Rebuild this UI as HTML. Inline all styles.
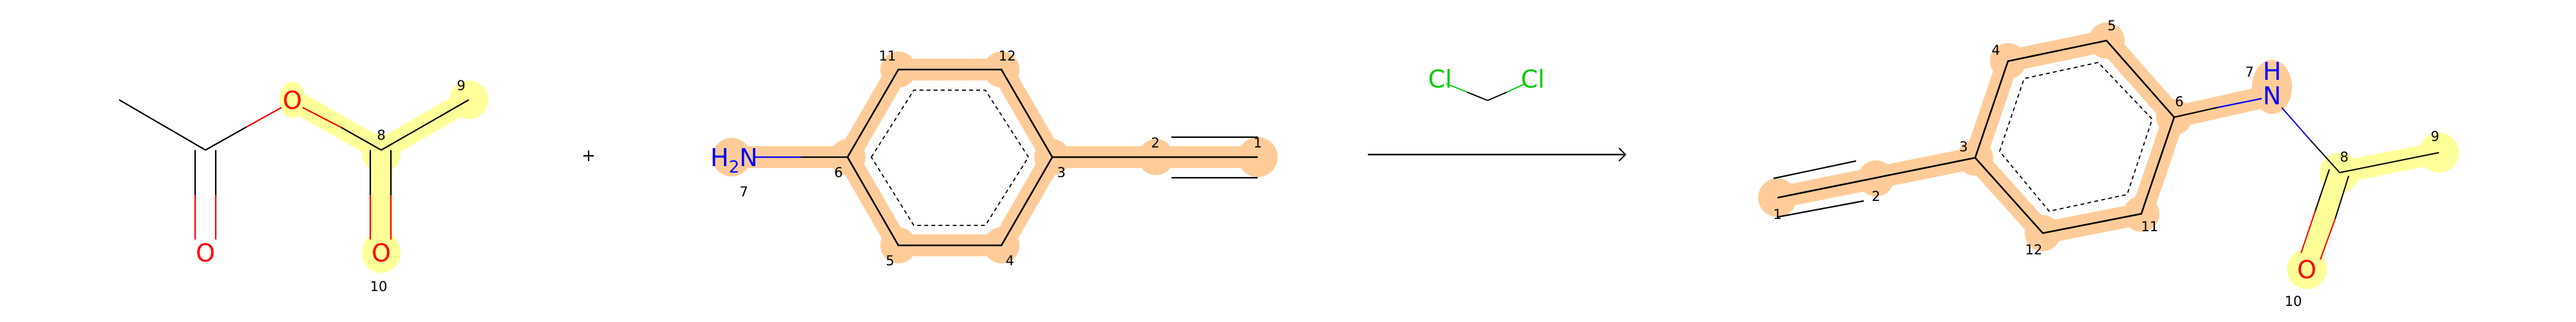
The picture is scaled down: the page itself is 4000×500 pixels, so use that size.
<!DOCTYPE html>
<html><head><meta charset="utf-8"><style>
html,body{margin:0;padding:0;background:#fff;}
svg{display:block;}
text{font-family:"DejaVu Sans","Liberation Sans",sans-serif;}
.n{font-size:21px;fill:#000;}
.a{font-size:38px;}
</style></head><body>
<svg width="4000" height="500" viewBox="0 0 4000 500">
<!-- Reactant 1: acetic anhydride -->
<g>
 <g stroke="#ffff99" stroke-width="34" stroke-linecap="round" fill="none">
  <line x1="454" y1="155" x2="592" y2="233"/><line x1="592" y1="233" x2="728" y2="155"/><line x1="592" y1="233" x2="592" y2="392"/>
 </g>
 <g fill="#ffff99"><ellipse cx="728" cy="155" rx="30" ry="30"/><ellipse cx="592" cy="392" rx="30" ry="32"/><ellipse cx="592" cy="238" rx="30" ry="30"/><ellipse cx="454" cy="155" rx="20" ry="28"/></g>
 <g stroke-width="2.2" fill="none">
  <line x1="185" y1="155" x2="319" y2="233" stroke="#000"/>
  <line x1="319" y1="233" x2="383" y2="197" stroke="#000"/><line x1="383" y1="197" x2="437" y2="167" stroke="#f00"/>
  <line x1="303" y1="233" x2="303" y2="303" stroke="#000"/><line x1="303" y1="303" x2="303" y2="372" stroke="#f00"/>
  <line x1="335" y1="233" x2="335" y2="303" stroke="#000"/><line x1="335" y1="303" x2="335" y2="372" stroke="#f00"/>
  <line x1="470" y1="167" x2="530" y2="198" stroke="#f00"/><line x1="530" y1="198" x2="592" y2="233" stroke="#000"/>
  <line x1="592" y1="233" x2="728" y2="155" stroke="#000"/>
  <line x1="575" y1="233" x2="575" y2="303" stroke="#000"/><line x1="575" y1="303" x2="575" y2="372" stroke="#f00"/>
  <line x1="607" y1="233" x2="607" y2="303" stroke="#000"/><line x1="607" y1="303" x2="607" y2="372" stroke="#f00"/>
 </g>
 <text class="a" x="454" y="169" fill="#f00" text-anchor="middle">O</text>
 <text class="a" x="319" y="406" fill="#f00" text-anchor="middle">O</text>
 <text class="a" x="592" y="406" fill="#f00" text-anchor="middle">O</text>
 <text class="n" x="592" y="217" text-anchor="middle">8</text>
 <text class="n" x="716" y="140" text-anchor="middle">9</text>
 <text class="n" x="588" y="452" text-anchor="middle">10</text>
</g>
<text x="914" y="250" font-size="26" text-anchor="middle">+</text>
<!-- Reactant 2: 4-ethynylaniline -->
<g>
 <g stroke="#ffcc99" stroke-width="34" stroke-linecap="round" fill="none">
  <polyline points="1136,244 1316,244 1395,108 1555,108 1634,244 1555,381 1395,381 1316,244"/>
  <line x1="1634" y1="244" x2="1953" y2="244"/>
 </g>
 <g fill="#ffcc99"><circle cx="1136" cy="244" r="30"/><circle cx="1316" cy="244" r="28"/><circle cx="1395" cy="108" r="28"/><circle cx="1555" cy="108" r="28"/><circle cx="1634" cy="244" r="28"/><circle cx="1555" cy="381" r="28"/><circle cx="1395" cy="381" r="28"/><circle cx="1795" cy="244" r="28"/><circle cx="1953" cy="244" r="31"/></g>
 <g stroke="#000" stroke-width="2.6" fill="none">
  <polygon points="1316,244 1395,108 1555,108 1634,244 1555,381 1395,381"/>
  <line x1="1634" y1="244" x2="1953" y2="244"/>
  <line x1="1819" y1="213" x2="1953" y2="213" stroke-width="2.2"/><line x1="1819" y1="276" x2="1953" y2="276" stroke-width="2.2"/>
  <line x1="1244" y1="244" x2="1316" y2="244" stroke-width="2.2"/>
  <polygon points="1353,244 1419,140 1530,140 1597,244 1530,350 1419,350" stroke-width="1.8" stroke-dasharray="6,5"/>
 </g>
 <line x1="1170" y1="244" x2="1244" y2="244" stroke="#00f" stroke-width="2.2"/>
 <text class="a" x="1103" y="258" fill="#00f">H<tspan font-size="26" dy="10">2</tspan><tspan dy="-10">N</tspan></text>
 <text class="n" x="1378" y="94" text-anchor="middle">11</text><text class="n" x="1564" y="94" text-anchor="middle">12</text>
 <text class="n" x="1302" y="275" text-anchor="middle">6</text><text class="n" x="1648" y="275" text-anchor="middle">3</text>
 <text class="n" x="1794" y="229" text-anchor="middle">2</text><text class="n" x="1953" y="229" text-anchor="middle">1</text>
 <text class="n" x="1382" y="412" text-anchor="middle">5</text><text class="n" x="1568" y="412" text-anchor="middle">4</text>
 <text class="n" x="1155" y="305" text-anchor="middle">7</text>
</g>
<!-- Reagent: dichloromethane -->
<g>
 <line x1="2246" y1="130" x2="2278" y2="143" stroke="#0c0" stroke-width="2"/><line x1="2278" y1="143" x2="2310" y2="156" stroke="#000" stroke-width="2"/>
 <line x1="2310" y1="156" x2="2340" y2="143" stroke="#000" stroke-width="2"/><line x1="2340" y1="143" x2="2368" y2="130" stroke="#0c0" stroke-width="2"/>
 <text class="a" x="2236" y="136" fill="#0c0" text-anchor="middle">Cl</text>
 <text class="a" x="2380" y="136" fill="#0c0" text-anchor="middle">Cl</text>
</g>
<g stroke="#000" stroke-width="2.6" fill="none">
 <line x1="2124" y1="240" x2="2524" y2="240"/><polyline points="2514,230 2524,240 2514,250" stroke-width="2"/>
</g>
<!-- Product -->
<g>
 <g stroke="#ffcc99" stroke-width="34" stroke-linecap="round" fill="none">
  <polyline points="2760,307 3067,245 3118,95 3271,63 3376,182 3325,332 3172,362 3067,245"/>
  <line x1="3376" y1="182" x2="3528" y2="148"/>
 </g>
 <g fill="#ffcc99"><circle cx="2760" cy="307" r="30"/><circle cx="2913" cy="277" r="28"/><circle cx="3067" cy="245" r="28"/><circle cx="3118" cy="95" r="28"/><circle cx="3271" cy="63" r="28"/><circle cx="3376" cy="182" r="28"/><circle cx="3325" cy="332" r="28"/><circle cx="3172" cy="362" r="28"/><ellipse cx="3528" cy="135" rx="31" ry="42"/></g>
 <g stroke="#ffff99" stroke-width="34" stroke-linecap="round" fill="none">
  <line x1="3633" y1="268" x2="3787" y2="237"/><line x1="3633" y1="268" x2="3582" y2="418"/>
 </g>
 <g fill="#ffff99"><circle cx="3787" cy="237" r="31"/><circle cx="3582" cy="418" r="31"/><circle cx="3633" cy="268" r="31"/></g>
 <g stroke="#000" stroke-width="2.6" fill="none">
  <polygon points="3067,245 3118,95 3271,63 3376,182 3325,332 3172,362"/>
  <line x1="2760" y1="307" x2="3067" y2="245"/>
  <line x1="2754" y1="277" x2="2882" y2="250" stroke-width="2.2"/><line x1="2760" y1="337" x2="2894" y2="312" stroke-width="2.2"/>
  <polygon points="3105,235 3143,122 3258,97 3342,185 3303,302 3182,328" stroke-width="1.8" stroke-dasharray="6,5"/>
  <line x1="3376" y1="182" x2="3443" y2="167" stroke-width="2.2"/>
  <line x1="3587" y1="217" x2="3633" y2="268" stroke-width="2"/>
  <line x1="3633" y1="268" x2="3787" y2="237" stroke-width="2"/>
  <line x1="3617" y1="263" x2="3595" y2="328" stroke-width="2"/><line x1="3647" y1="273" x2="3626" y2="340" stroke-width="2"/>
 </g>
 <line x1="3443" y1="167" x2="3512" y2="153" stroke="#00f" stroke-width="2.2"/>
 <line x1="3543" y1="167" x2="3587" y2="217" stroke="#00f" stroke-width="2"/>
 <line x1="3595" y1="328" x2="3573" y2="393" stroke="#f00" stroke-width="2"/><line x1="3626" y1="340" x2="3603" y2="403" stroke="#f00" stroke-width="2"/>
 <text class="a" x="3528" y="124" fill="#00f" text-anchor="middle">H</text>
 <text class="a" x="3528" y="162" fill="#00f" text-anchor="middle">N</text>
 <text class="a" x="3582" y="432" fill="#f00" text-anchor="middle">O</text>
 <text class="n" x="2760" y="340" text-anchor="middle">1</text><text class="n" x="2913" y="312" text-anchor="middle">2</text>
 <text class="n" x="3049" y="235" text-anchor="middle">3</text><text class="n" x="3099" y="85" text-anchor="middle">4</text>
 <text class="n" x="3279" y="47" text-anchor="middle">5</text><text class="n" x="3384" y="165" text-anchor="middle">6</text>
 <text class="n" x="3493" y="119" text-anchor="middle">7</text><text class="n" x="3640" y="251" text-anchor="middle">8</text>
 <text class="n" x="3781" y="219" text-anchor="middle">9</text><text class="n" x="3561" y="475" text-anchor="middle">10</text>
 <text class="n" x="3338" y="359" text-anchor="middle">11</text><text class="n" x="3158" y="395" text-anchor="middle">12</text>
</g>
</svg>
</body></html>
